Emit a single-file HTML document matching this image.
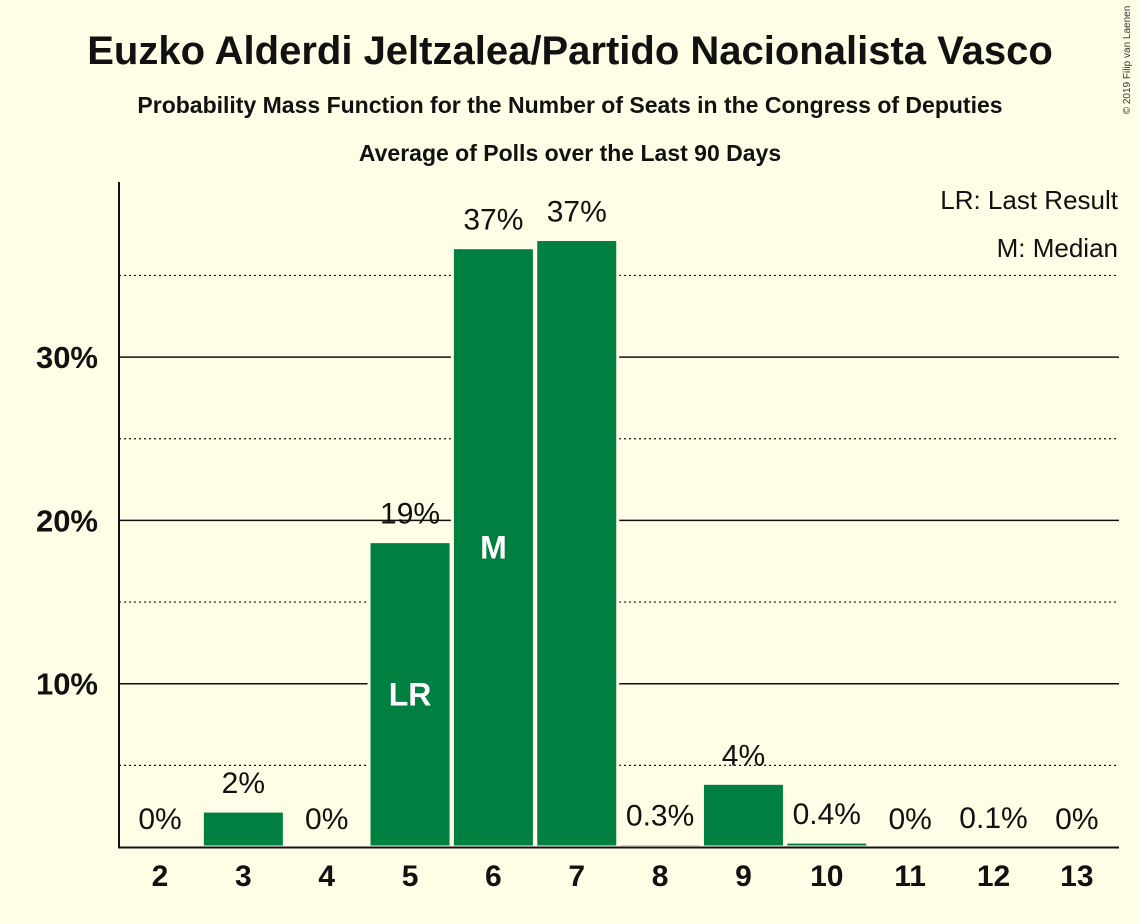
<!DOCTYPE html>
<html><head><meta charset="utf-8"><style>
body{margin:0;background:#fffde5;}
svg{display:block;font-family:"Liberation Sans",sans-serif;}
</style></head><body>
<svg id="chart" width="1139" height="924">
<rect width="1139" height="924" fill="#fffde5"/>
<text x="570" y="64" text-anchor="middle" font-size="40" font-weight="bold" fill="#111">Euzko Alderdi Jeltzalea/Partido Nacionalista Vasco</text>
<text x="570" y="113" text-anchor="middle" font-size="23" font-weight="bold" fill="#111">Probability Mass Function for the Number of Seats in the Congress of Deputies</text>
<text x="570" y="161" text-anchor="middle" font-size="23" font-weight="bold" fill="#111">Average of Polls over the Last 90 Days</text>
<text x="1130" y="60" font-size="10" fill="#333" transform="rotate(-90 1130 60)" text-anchor="middle">© 2019 Filip van Laenen</text>
<g id="grid"></g>
<g id="bars"></g>
<g id="labels"></g>
<line x1="119" y1="182" x2="119" y2="848" stroke="#111" stroke-width="2"/>
<line x1="118" y1="847.5" x2="1119" y2="847.5" stroke="#111" stroke-width="2"/>
<text x="1118" y="209" text-anchor="end" font-size="26" fill="#111">LR: Last Result</text>
<text x="1118" y="257" text-anchor="end" font-size="26" fill="#111">M: Median</text>
</svg>
<script>
const categories=[2,3,4,5,6,7,8,9,10,11,12,13];
const values=[0,2.2,0,18.7,36.7,37.2,0.2,3.9,0.3,0,0.05,0];
const valueLabels=["0%","2%","0%","19%","37%","37%","0.3%","4%","0.4%","0%","0.1%","0%"];
const yTicks=[10,20,30];
const yTickLabels=["10%","20%","30%"];
const dottedTicks=[5,15,25,35];
const lastResult=5, median=6;
const NS="http://www.w3.org/2000/svg";
const y=v=>847-v*16.33;
const x=c=>160+(c-2)*83.35;
function mk(tag,attrs,parent){const e=document.createElementNS(NS,tag);for(const k in attrs)e.setAttribute(k,attrs[k]);document.getElementById(parent).appendChild(e);return e;}
yTicks.forEach((t,i)=>{
 const l=mk('line',{x1:119,x2:1119,y1:y(t),y2:y(t),stroke:'#111','stroke-width':1.5},'grid');
 
 
 const tx=mk('text',{x:98,y:y(t)+11,'text-anchor':'end','font-size':31,'font-weight':'bold',fill:'#111'},'grid');
 tx.textContent=yTickLabels[i];
 
 
});
dottedTicks.forEach(t=>{
 const l=mk('line',{x1:119,x2:1119,y1:y(t),y2:y(t),stroke:'#111','stroke-width':1.2,'stroke-dasharray':'2,3'},'grid');
 
 
});
categories.forEach((c,i)=>{
 const cx=x(c),v=values[i];
 if(v>0){
  const r=mk('rect',{x:cx-41,y:y(v),width:82,height:847-y(v),fill:'#008040',stroke:'#fffde5','stroke-width':3},'bars');
  
  
 }
 const lbl=mk('text',{x:cx,y:y(v)-18,'text-anchor':'middle','font-size':30,fill:'#111'},'labels');
 lbl.textContent=valueLabels[i];
 
 
 const xt=mk('text',{x:cx,y:886,'text-anchor':'middle','font-size':30,'font-weight':'bold',fill:'#111'},'labels');
 xt.textContent=c;
 
 
 if(c===lastResult||c===median){
  const m=mk('text',{x:cx,y:y(values[i]*0.5)+11,'text-anchor':'middle','font-size':32,'font-weight':'bold',fill:'#fff'},'labels');
  m.textContent=c===lastResult?'LR':'M';
  
  
 }
});
</script>
</body></html>
